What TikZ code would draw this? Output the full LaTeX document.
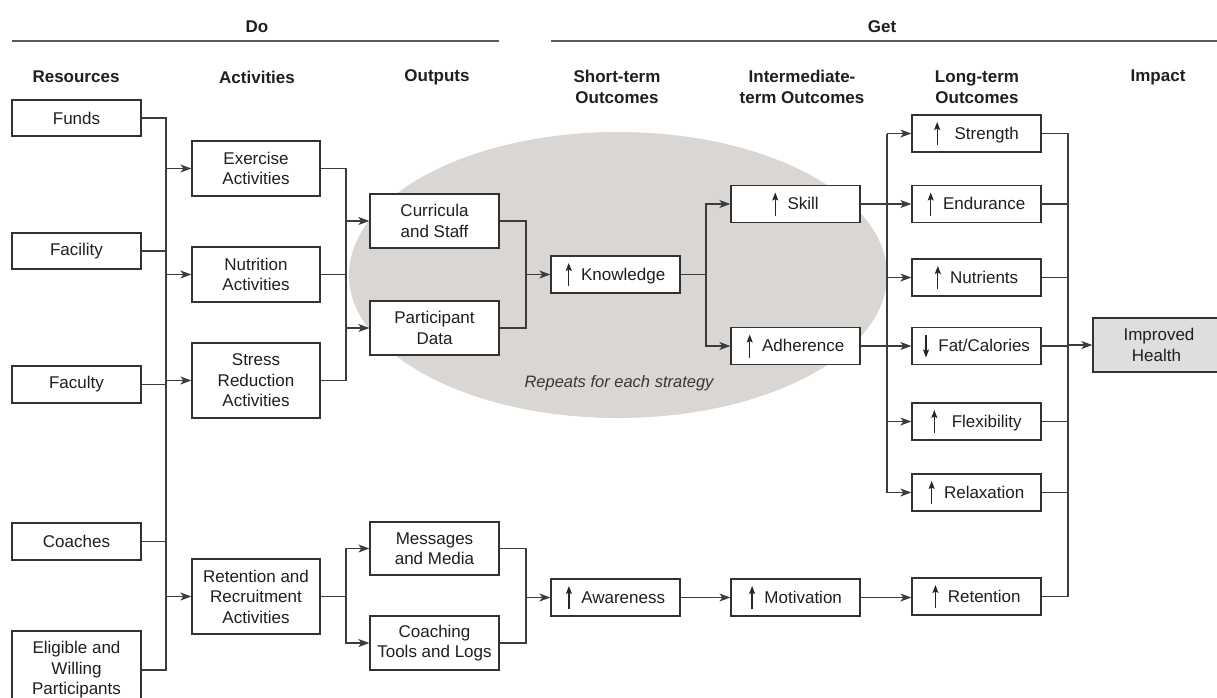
\documentclass[tikz,border=0pt]{standalone}
\usepackage{fontspec}
\setmainfont{Liberation Sans}
\usetikzlibrary{arrows.meta,calc}
\definecolor{ellcol}{RGB}{217,214,211}
\definecolor{boxline}{RGB}{50,50,50}
\definecolor{connline}{RGB}{60,60,60}
\definecolor{impfill}{RGB}{222,222,222}
\newcommand\upa{\tikz[x=1pt,y=1pt,baseline=0pt]\draw[line width=1.2pt,black!85,-{Stealth[length=8pt,width=6pt,inset=1.5pt]}] (0,-6) -- (0,17);\hspace{0.55em}}
\newcommand\dna{\tikz[x=1pt,y=1pt,baseline=0pt]\draw[line width=1.2pt,black!85,-{Stealth[length=8pt,width=6pt,inset=1.5pt]}] (0,17) -- (0,-6);\hspace{0.55em}}
\begin{document}
\begin{tikzpicture}[x=1pt,y=-1pt,
  box/.style={draw=boxline,line width=1.3pt,fill=white,inner sep=0pt,align=center,
    font=\fontsize{17}{20.5}\selectfont,text=black!88},
  r/.style={box,minimum width=129pt},
  hdr/.style={font=\bfseries\fontsize{17}{20.5}\selectfont,align=center,text=black!88},
  conn/.style={draw=connline,line width=1.1pt},
  arr/.style={conn,-{Stealth[length=11pt,width=8pt,inset=3pt]}}]
\clip (0,0) rectangle (1217,697);
\useasboundingbox (0,0) rectangle (1217,697);
% ellipse
\fill[ellcol] (618,275) ellipse [x radius=269, y radius=143];
\node[font=\itshape\fontsize{16.5}{20}\selectfont,text=black!78] (rep) at (619,383) {Repeats for each strategy};
% top headers
\node[hdr] (do) at (257,27) {Do};
\node[hdr] (get) at (882,27) {Get};
\draw[draw=black!65,line width=1.4pt] (12,41) -- (499,41);
\draw[draw=black!65,line width=1.4pt] (551,41) -- (1217,41);
\node[hdr] (h1) at (76,77) {Resources};
\node[hdr] (h2) at (257,77) {Activities};
\node[hdr] (h3) at (437,77) {Outputs};
\node[hdr] (h4) at (617,87) {Short-term\\Outcomes};
\node[hdr] (h5) at (802,87) {Intermediate-\\term Outcomes};
\node[hdr] (h6) at (977,87) {Long-term\\Outcomes};
\node[hdr] (h7) at (1158,77) {Impact};
% resources
\node[r,minimum height=36pt] (funds) at (76.5,118) {Funds};
\node[r,minimum height=36pt] (facility) at (76.5,251) {Facility};
\node[r,minimum height=37pt] (faculty) at (76.5,384.5) {Faculty};
\node[r,minimum height=37pt] (coaches) at (76.5,541.5) {Coaches};
\node[r,minimum height=78pt] (elig) at (76.5,670) {Eligible and\\Willing\\Participants};
% activities
\node[box,minimum width=128pt,minimum height=55pt] (exer) at (256,168.5) {Exercise\\Activities};
\node[box,minimum width=128pt,minimum height=55pt] (nutr) at (256,274.5) {Nutrition\\Activities};
\node[box,minimum width=128pt,minimum height=75pt] (stress) at (256,380.5) {Stress\\Reduction\\Activities};
\node[box,minimum width=128pt,minimum height=75pt] (retrec) at (256,596.5) {Retention and\\Recruitment\\Activities};
% outputs
\node[r,minimum height=54pt] (curr) at (434.5,221) {Curricula\\and Staff};
\node[r,minimum height=54pt] (part) at (434.5,328) {Participant\\Data};
\node[r,minimum height=53pt] (msg) at (434.5,548.5) {Messages\\and Media};
\node[r,minimum height=54pt] (tools) at (434.5,643) {Coaching\\Tools and Logs};
% short-term
\node[r,minimum height=37pt] (know) at (615.5,274.5) {\upa Knowledge};
\node[r,minimum height=37pt] (aware) at (615.5,597.5) {\upa Awareness};
% intermediate
\node[r,minimum height=37pt] (skill) at (795.5,204) {\upa Skill};
\node[r,minimum height=37pt] (adher) at (795.5,346) {\upa Adherence};
\node[r,minimum height=37pt] (motiv) at (795.5,597.5) {\upa Motivation};
% long-term
\node[r,minimum height=37pt] (stren) at (976.5,133.5) {\upa\hspace{0.3em}Strength};
\node[r,minimum height=37pt] (endur) at (976.5,204) {\upa Endurance};
\node[r,minimum height=37pt] (nutri) at (976.5,277.5) {\upa Nutrients};
\node[r,minimum height=37pt] (fat) at (976.5,346) {\dna Fat/Calories};
\node[r,minimum height=37pt] (flex) at (976.5,421.5) {\upa\hspace{0.3em}Flexibility};
\node[r,minimum height=37pt] (relax) at (976.5,492.5) {\upa Relaxation};
\node[r,minimum height=37pt] (reten) at (976.5,596.5) {\upa Retention};
% impact
\node[box,fill=impfill,minimum width=132pt,minimum height=54pt] (imp) at (1159,345) {Improved\\Health\hspace*{5pt}};
% bus coordinates
\coordinate (b1) at (166,0);
\coordinate (b2) at (346,0);
\coordinate (b3) at (526,0);
\coordinate (b4) at (706,0);
\coordinate (b5) at (887,0);
\coordinate (b6) at (1068,0);
% resources -> activities
\draw[conn] (funds.east) -- (funds.east -| b1) -- (elig.east -| b1) -- (elig.east);
\draw[conn] (facility.east) -- (facility.east -| b1);
\draw[conn] (faculty.east) -- (faculty.east -| b1);
\draw[conn] (coaches.east) -- (coaches.east -| b1);
\foreach \n in {exer,nutr,stress,retrec}{\draw[arr] (\n.west -| b1) -- (\n.west);}
% activities -> outputs
\draw[conn] (exer.east) -- (exer.east -| b2) -- (stress.east -| b2) -- (stress.east);
\draw[conn] (nutr.east) -- (nutr.east -| b2);
\draw[arr] (curr.west -| b2) -- (curr.west);
\draw[arr] (part.west -| b2) -- (part.west);
\draw[conn] (retrec.east) -- (retrec.east -| b2);
\draw[arr] (retrec.east -| b2) |- (msg.west);
\draw[arr] (retrec.east -| b2) |- (tools.west);
% outputs -> short-term
\draw[conn] (curr.east) -- (curr.east -| b3) -- (part.east -| b3) -- (part.east);
\draw[arr] (know.west -| b3) -- (know.west);
\draw[conn] (msg.east) -- (msg.east -| b3) -- (tools.east -| b3) -- (tools.east);
\draw[arr] (aware.west -| b3) -- (aware.west);
% knowledge -> intermediate
\draw[conn] (know.east) -- (know.east -| b4);
\draw[arr] (know.east -| b4) |- (skill.west);
\draw[arr] (know.east -| b4) |- (adher.west);
% intermediate -> long-term
\draw[conn] (stren.west -| b5) -- (relax.west -| b5);
\draw[conn] (skill.east) -- (skill.east -| b5);
\draw[conn] (adher.east) -- (adher.east -| b5);
\foreach \n in {stren,endur,nutri,fat,flex,relax}{\draw[arr] (\n.west -| b5) -- (\n.west);}
% bottom chain
\draw[arr] (aware.east) -- (motiv.west);
\draw[arr] (motiv.east) -- (motiv.east -| reten.west);
% long-term -> impact
\draw[conn] (stren.east) -- (stren.east -| b6) -- (reten.east -| b6) -- (reten.east);
\foreach \n in {endur,nutri,fat,flex,relax}{\draw[conn] (\n.east) -- (\n.east -| b6);}
\draw[arr] (imp.west -| b6) -- (imp.west);
\end{tikzpicture}
\end{document}
